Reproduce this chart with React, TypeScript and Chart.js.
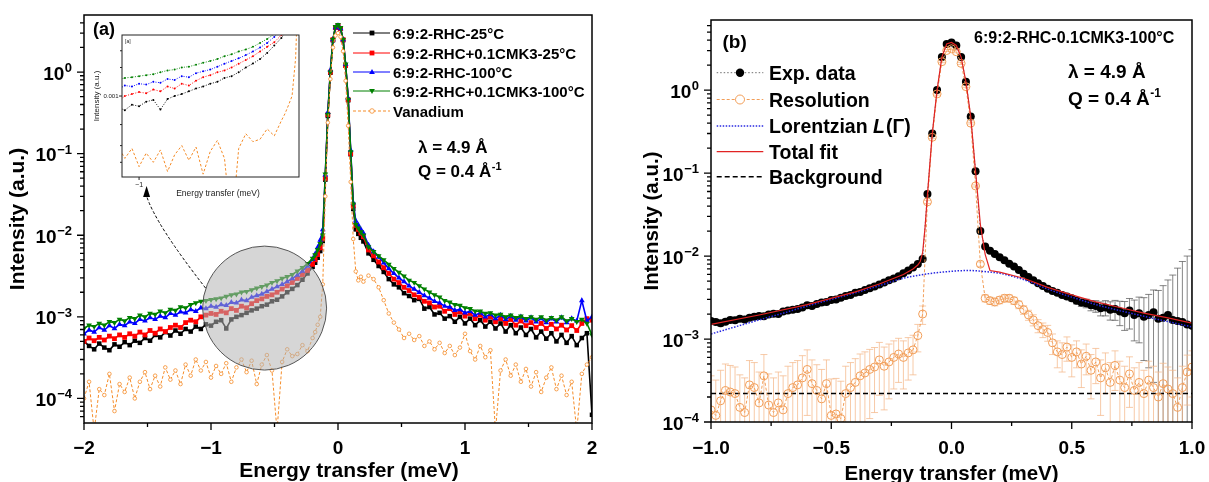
import React, { useEffect, useRef } from "react";
import { Chart, registerables } from "chart.js";

Chart.register(...registerables);

const FONT = '"Liberation Sans", Arial, Helvetica, sans-serif';
const ORANGE_A = "rgb(245,140,40)";
const ORANGE_B = "rgb(242,158,88)";
const ORANGE_BAR = "rgba(244,185,140,0.95)";
const GRAY_BAR = "rgba(85,85,85,0.9)";
const BLUE_B = "rgb(40,40,225)";
const RED_B = "rgb(225,35,35)";

// ---------------- Panel (a) data ----------------
const energyA = [
  -2.0, -1.96, -1.92, -1.88, -1.84, -1.8, -1.76, -1.72, -1.68, -1.64,
  -1.6, -1.56, -1.52, -1.48, -1.44, -1.4, -1.36, -1.32, -1.28, -1.24,
  -1.2, -1.16, -1.12, -1.08, -1.04, -1.0, -0.96, -0.92, -0.88, -0.84,
  -0.8, -0.76, -0.72, -0.68, -0.64, -0.6, -0.56, -0.52, -0.48, -0.44,
  -0.4, -0.36, -0.32, -0.28, -0.24,
  -0.2, -0.18, -0.16, -0.14, -0.12, -0.1, -0.08, -0.06, -0.04, -0.02,
  0.0, 0.02, 0.04, 0.06, 0.08, 0.1, 0.12, 0.14, 0.16, 0.18, 0.2,
  0.24, 0.28, 0.32, 0.36, 0.4, 0.44, 0.48, 0.52, 0.56, 0.6,
  0.64, 0.68, 0.72, 0.76, 0.8, 0.84, 0.88, 0.92, 0.96, 1.0,
  1.04, 1.08, 1.12, 1.16, 1.2, 1.24, 1.28, 1.32, 1.36, 1.4,
  1.44, 1.48, 1.52, 1.56, 1.6, 1.64, 1.68, 1.72, 1.76, 1.8,
  1.84, 1.88, 1.92, 1.96, 2.0,
];

const rhc25C = [
  5.0e-4, 4.4e-4, 4.0e-4, 4.7e-4, 4.2e-4, 3.9e-4, 4.6e-4, 4.3e-4, 4.9e-4, 4.5e-4,
  5.1e-4, 4.8e-4, 5.5e-4, 5.1e-4, 6.0e-4, 5.6e-4, 6.5e-4, 5.9e-4, 6.8e-4, 6.2e-4,
  7.1e-4, 6.6e-4, 7.6e-4, 7.1e-4, 8.1e-4, 7.8e-4, 8.7e-4, 9.1e-4, 7.2e-4, 9.3e-4,
  1.0e-3, 1.05e-3, 1.12e-3, 1.2e-3, 1.26e-3, 1.35e-3, 1.41e-3, 1.55e-3, 1.62e-3, 1.78e-3,
  2.0e-3, 2.2e-3, 2.45e-3, 2.85e-3, 3.4e-3,
  4.1e-3, 4.6e-3, 5.3e-3, 6.4e-3, 8.5e-3, 0.048, 0.29, 0.98, 2.45, 3.5,
  3.7, 3.4, 2.45, 1.2, 0.45, 0.098, 0.021, 0.0118, 0.0104, 0.0093, 0.0084,
  6.0e-3, 5.0e-3, 4.2e-3, 3.55e-3, 2.9e-3, 2.5e-3, 2.3e-3, 1.95e-3, 1.8e-3, 1.6e-3,
  1.66e-3, 1.26e-3, 1.32e-3, 1.07e-3, 1.12e-3, 9.5e-4, 1.02e-3, 8.7e-4, 1.0e-3, 8.3e-4,
  9.5e-4, 7.9e-4, 9.1e-4, 7.6e-4, 8.7e-4, 7.2e-4, 8.3e-4, 6.6e-4, 7.9e-4, 6.3e-4,
  7.4e-4, 6.0e-4, 7.1e-4, 5.6e-4, 6.6e-4, 5.4e-4, 6.3e-4, 5.0e-4, 6.0e-4, 4.8e-4,
  5.8e-4, 4.5e-4, 5.5e-4, 6.3e-4, 6.3e-5,
];

const cmk25C = [
  5.0e-4, 5.5e-4, 5.1e-4, 5.6e-4, 5.2e-4, 5.8e-4, 5.4e-4, 6.0e-4, 5.6e-4, 6.2e-4,
  5.8e-4, 6.5e-4, 6.0e-4, 6.8e-4, 6.3e-4, 7.1e-4, 6.6e-4, 7.4e-4, 7.9e-4, 7.4e-4,
  8.5e-4, 9.1e-4, 8.7e-4, 1.0e-3, 1.05e-3, 1.1e-3, 1.07e-3, 1.17e-3, 1.12e-3, 1.26e-3,
  1.2e-3, 1.35e-3, 1.29e-3, 1.45e-3, 1.58e-3, 1.66e-3, 1.78e-3, 1.86e-3, 2.0e-3, 2.19e-3,
  2.4e-3, 2.63e-3, 2.95e-3, 3.3e-3, 3.7e-3,
  4.4e-3, 5.0e-3, 5.8e-3, 7.0e-3, 9.2e-3, 0.05, 0.3, 1.0, 2.5, 3.5,
  3.7, 3.4, 2.5, 1.2, 0.46, 0.1, 0.023, 0.0132, 0.0118, 0.0106, 0.0096,
  6.6e-3, 5.6e-3, 4.7e-3, 4.0e-3, 3.4e-3, 2.9e-3, 2.63e-3, 2.3e-3, 2.1e-3, 1.86e-3,
  1.74e-3, 1.55e-3, 1.48e-3, 1.32e-3, 1.35e-3, 1.17e-3, 1.26e-3, 1.07e-3, 1.15e-3, 1.02e-3,
  1.1e-3, 9.5e-4, 1.05e-3, 9.1e-4, 1.0e-3, 8.7e-4, 9.5e-4, 8.3e-4, 9.3e-4, 7.9e-4,
  8.9e-4, 7.8e-4, 8.5e-4, 7.4e-4, 8.3e-4, 7.2e-4, 8.1e-4, 7.1e-4, 7.9e-4, 6.9e-4,
  7.8e-4, 6.8e-4, 8.3e-4, 9.5e-4, 9.1e-4,
];

const rhc100C = [
  6.2e-4, 6.9e-4, 6.5e-4, 7.4e-4, 6.9e-4, 7.8e-4, 7.2e-4, 8.1e-4, 7.8e-4, 8.7e-4,
  8.3e-4, 9.3e-4, 8.9e-4, 9.8e-4, 9.3e-4, 1.02e-3, 9.8e-4, 1.1e-3, 1.05e-3, 1.15e-3,
  1.12e-3, 1.23e-3, 1.17e-3, 1.29e-3, 1.26e-3, 1.35e-3, 1.32e-3, 1.41e-3, 1.38e-3, 1.51e-3,
  1.48e-3, 1.62e-3, 1.58e-3, 1.74e-3, 1.82e-3, 1.9e-3, 2.04e-3, 2.19e-3, 2.34e-3, 2.5e-3,
  2.7e-3, 2.95e-3, 3.24e-3, 3.63e-3, 4.2e-3,
  5.1e-3, 5.9e-3, 7.1e-3, 8.7e-3, 0.0117, 0.055, 0.32, 1.05, 2.5, 3.5,
  3.7, 3.4, 2.5, 1.25, 0.48, 0.11, 0.025, 0.015, 0.0133, 0.0118, 0.0106,
  7.6e-3, 6.3e-3, 5.4e-3, 4.6e-3, 3.9e-3, 3.4e-3, 3.0e-3, 2.7e-3, 2.4e-3, 2.19e-3,
  2.0e-3, 1.82e-3, 1.7e-3, 1.55e-3, 1.48e-3, 1.35e-3, 1.32e-3, 1.2e-3, 1.23e-3, 1.12e-3,
  1.17e-3, 1.05e-3, 1.12e-3, 1.0e-3, 1.07e-3, 9.5e-4, 1.05e-3, 9.3e-4, 1.02e-3, 9.1e-4,
  1.0e-3, 8.9e-4, 9.8e-4, 8.7e-4, 9.5e-4, 8.5e-4, 9.5e-4, 8.7e-4, 9.8e-4, 8.5e-4,
  9.5e-4, 8.9e-4, 1.58e-3, 8.9e-4, 1.0e-3,
];

const cmk100C = [
  7.2e-4, 7.9e-4, 7.6e-4, 8.3e-4, 7.9e-4, 8.7e-4, 8.5e-4, 9.3e-4, 8.9e-4, 9.8e-4,
  9.5e-4, 1.05e-3, 1.0e-3, 1.1e-3, 1.07e-3, 1.17e-3, 1.12e-3, 1.23e-3, 1.2e-3, 1.32e-3,
  1.29e-3, 1.41e-3, 1.48e-3, 1.55e-3, 1.58e-3, 1.62e-3, 1.66e-3, 1.7e-3, 1.78e-3, 1.86e-3,
  1.9e-3, 2.0e-3, 2.04e-3, 2.14e-3, 2.24e-3, 2.34e-3, 2.45e-3, 2.63e-3, 2.75e-3, 2.95e-3,
  3.1e-3, 3.3e-3, 3.63e-3, 4.0e-3, 4.5e-3,
  5.2e-3, 5.75e-3, 6.6e-3, 7.9e-3, 0.01, 0.056, 0.3, 1.0, 2.5, 3.6,
  3.8, 3.5, 2.5, 1.25, 0.46, 0.105, 0.024, 0.0135, 0.0122, 0.011, 0.01,
  7.2e-3, 6.3e-3, 5.6e-3, 5.0e-3, 4.4e-3, 3.9e-3, 3.5e-3, 3.16e-3, 2.8e-3, 2.63e-3,
  2.4e-3, 2.19e-3, 2.0e-3, 1.86e-3, 1.74e-3, 1.58e-3, 1.51e-3, 1.41e-3, 1.38e-3, 1.29e-3,
  1.26e-3, 1.17e-3, 1.17e-3, 1.1e-3, 1.12e-3, 1.05e-3, 1.07e-3, 1.0e-3, 1.05e-3, 9.8e-4,
  1.02e-3, 9.5e-4, 1.0e-3, 9.3e-4, 1.0e-3, 9.1e-4, 9.8e-4, 9.1e-4, 1.0e-3, 8.9e-4,
  9.5e-4, 8.7e-4, 9.3e-4, 8.3e-4, 6.0e-4,
];

const vanadium = [
  1.0e-4, 1.6e-4, 4e-5, 1.3e-4, 1.1e-4, 2.0e-4, 7e-5, 1.5e-4, 1.2e-4, 1.8e-4,
  1.0e-4, 1.6e-4, 2.1e-4, 1.3e-4, 1.9e-4, 1.4e-4, 2.4e-4, 1.7e-4, 2.2e-4, 1.5e-4,
  2.6e-4, 1.9e-4, 3.0e-4, 2.2e-4, 2.8e-4, 1.8e-4, 2.5e-4, 2.0e-4, 2.7e-4, 1.6e-4,
  2.4e-4, 3.0e-4, 2.1e-4, 2.9e-4, 1.5e-4, 2.6e-4, 3.4e-4, 2.2e-4, 4e-5, 2.8e-4,
  4.0e-4, 3.3e-4, 3.5e-4, 4.5e-4, 3.8e-4,
  5.5e-4, 6.5e-4, 8.0e-4, 1.0e-3, 2.5e-3, 0.03, 0.24, 0.82, 2.0, 2.8,
  3.0, 2.7, 1.8, 0.78, 0.22, 0.045, 9.0e-3, 3.6e-3, 2.8e-3, 3.1e-3, 2.7e-3,
  3.2e-3, 2.9e-3, 2.3e-3, 1.6e-3, 1.1e-3, 8.5e-4, 7.0e-4, 5.5e-4, 6.2e-4, 5.2e-4,
  5.8e-4, 4.4e-4, 5.0e-4, 4.0e-4, 4.8e-4, 3.6e-4, 4.4e-4, 3.4e-4, 4.2e-4, 6.2e-4,
  3.8e-4, 3.0e-4, 4.4e-4, 3.2e-4, 3.9e-4, 4e-5, 2.2e-4, 3.0e-4, 1.9e-4, 2.6e-4,
  1.6e-4, 2.3e-4, 1.4e-4, 2.1e-4, 1.2e-4, 1.8e-4, 2.4e-4, 1.3e-4, 1.9e-4, 1.1e-4,
  1.6e-4, 4e-5, 2.0e-4, 2.6e-4, 3.2e-4,
];

const seriesLabelsA = [
  "6:9:2-RHC-25°C",
  "6:9:2-RHC+0.1CMK3-25°C",
  "6:9:2-RHC-100°C",
  "6:9:2-RHC+0.1CMK3-100°C",
  "Vanadium",
];

const xTicksA = [-2, -1, 0, 1, 2];
const xTickLabelsA = ["−2", "−1", "0", "1", "2"];
const xMinorA = [-1.5, -0.5, 0.5, 1.5];
const yDecades = [1e-4, 1e-3, 1e-2, 1e-1, 1];
const yDecadeExp = ["−4", "−3", "−2", "−1", "0"];

// ---------------- Panel (b) data ----------------
const energyB = [
  -1.0, -0.98, -0.96, -0.94, -0.92, -0.9, -0.88, -0.86, -0.84, -0.82,
  -0.8, -0.78, -0.76, -0.74, -0.72, -0.7, -0.68, -0.66, -0.64, -0.62,
  -0.6, -0.58, -0.56, -0.54, -0.52, -0.5, -0.48, -0.46, -0.44, -0.42,
  -0.4, -0.38, -0.36, -0.34, -0.32, -0.3, -0.28, -0.26, -0.24, -0.22,
  -0.2, -0.18, -0.16, -0.14,
  -0.12, -0.1, -0.08, -0.06, -0.04, -0.02, 0.0, 0.02, 0.04, 0.06, 0.08, 0.1, 0.12,
  0.14, 0.16, 0.18, 0.2, 0.22, 0.24, 0.26, 0.28, 0.3, 0.32,
  0.34, 0.36, 0.38, 0.4, 0.42, 0.44, 0.46, 0.48, 0.5, 0.52,
  0.54, 0.56, 0.58, 0.6, 0.62, 0.64, 0.66, 0.68, 0.7, 0.72,
  0.74, 0.76, 0.78, 0.8, 0.82, 0.84, 0.86, 0.88, 0.9, 0.92,
  0.94, 0.96, 0.98, 1.0,
];

const expData = [
  1.65e-3, 1.6e-3, 1.55e-3, 1.62e-3, 1.7e-3, 1.68e-3, 1.75e-3, 1.72e-3, 1.8e-3, 1.85e-3,
  1.9e-3, 1.88e-3, 1.98e-3, 2.02e-3, 2.0e-3, 2.15e-3, 2.2e-3, 2.25e-3, 2.3e-3, 2.4e-3,
  2.55e-3, 2.5e-3, 2.65e-3, 2.75e-3, 2.8e-3, 2.95e-3, 3.0e-3, 3.15e-3, 3.3e-3, 3.4e-3,
  3.6e-3, 3.7e-3, 3.9e-3, 4.1e-3, 4.3e-3, 4.55e-3, 4.8e-3, 5.1e-3, 5.35e-3, 5.7e-3,
  6.2e-3, 6.7e-3, 7.3e-3, 8.0e-3,
  9.2e-3, 0.056, 0.3, 1.0, 2.5, 3.6, 3.75, 3.45, 2.5, 1.26, 0.48, 0.105, 0.02,
  0.013, 0.0116, 0.0106, 9.7e-3, 8.9e-3, 8.1e-3, 7.5e-3, 6.8e-3, 6.1e-3, 5.6e-3,
  5.1e-3, 4.7e-3, 4.35e-3, 4.05e-3, 3.8e-3, 3.6e-3, 3.4e-3, 3.25e-3, 3.1e-3, 2.9e-3,
  2.75e-3, 2.7e-3, 2.55e-3, 2.5e-3, 2.35e-3, 2.4e-3, 2.25e-3, 2.3e-3, 2.15e-3, 2.05e-3,
  2.2e-3, 1.95e-3, 2.05e-3, 1.85e-3, 1.95e-3, 2.1e-3, 1.75e-3, 1.8e-3, 1.95e-3, 1.7e-3,
  1.65e-3, 1.6e-3, 1.5e-3, 1.45e-3,
];

const expErr = [
  1.2e-4, 1.1e-4, 1.1e-4, 1.0e-4, 1.0e-4, 1.0e-4, 9e-5, 9e-5, 9e-5, 9e-5,
  9e-5, 9e-5, 8e-5, 8e-5, 8e-5, 8e-5, 8e-5, 8e-5, 8e-5, 8e-5,
  8e-5, 8e-5, 8e-5, 8e-5, 8e-5, 8e-5, 8e-5, 8e-5, 8e-5, 8e-5,
  8e-5, 8e-5, 8e-5, 9e-5, 9e-5, 9e-5, 1e-4, 1e-4, 1e-4, 1e-4,
  1.1e-4, 1.1e-4, 1.2e-4, 1.3e-4,
  1.5e-4, 1e-3, 4e-3, 0.01, 0.02, 0.03, 0.03, 0.03, 0.02, 0.01, 4e-3, 1e-3, 2e-4,
  2e-4, 2e-4, 1.8e-4, 1.7e-4, 1.6e-4, 1.5e-4, 1.5e-4, 1.4e-4, 1.4e-4, 1.4e-4,
  1.4e-4, 1.4e-4, 1.5e-4, 1.5e-4, 1.6e-4, 1.7e-4, 1.8e-4, 2.0e-4, 2.2e-4, 2.5e-4,
  2.8e-4, 3.2e-4, 3.6e-4, 4.0e-4, 4.5e-4, 5.0e-4, 5.6e-4, 6.2e-4, 7.0e-4, 7.8e-4,
  8.8e-4, 1.0e-3, 1.15e-3, 1.3e-3, 1.5e-3, 1.8e-3, 2.1e-3, 2.6e-3, 3.2e-3, 4.2e-3,
  5.5e-3, 7.0e-3, 8.5e-3, 1.05e-2,
];

const resolution = [
  1.4e-4, 1.2e-4, 1.8e-4, 2.4e-4, 2.3e-4, 2.2e-4, 1.5e-4, 1.3e-4, 2.8e-4, 2.6e-4,
  1.7e-4, 3.6e-4, 1.6e-4, 1.3e-4, 1.7e-4, 1.4e-4, 2.2e-4, 2.6e-4, 2.8e-4, 3.4e-4,
  4.3e-4, 2.9e-4, 2.4e-4, 1.9e-4, 2.9e-4, 1.2e-4, 1.25e-4, 1.1e-4, 2.2e-4, 2.6e-4,
  3.0e-4, 3.6e-4, 3.9e-4, 4.3e-4, 4.6e-4, 5.6e-4, 4.7e-4, 5.3e-4, 6.0e-4, 6.6e-4,
  6.0e-4, 6.8e-4, 7.4e-4, 1.1e-3,
  2.0e-3, 0.045, 0.27, 0.9, 2.2, 3.0, 3.15, 2.9, 2.1, 1.1, 0.4, 0.07, 8.0e-3,
  3.1e-3, 2.9e-3, 2.8e-3, 2.95e-3, 3.1e-3, 3.1e-3, 2.9e-3, 2.6e-3, 2.25e-3, 1.95e-3,
  1.7e-3, 1.45e-3, 1.3e-3, 1.2e-3, 9.0e-4, 7.0e-4, 6.5e-4, 8.0e-4, 6.0e-4, 7.0e-4,
  5.0e-4, 6.2e-4, 4.2e-4, 5.3e-4, 3.4e-4, 4.5e-4, 3.0e-4, 4.8e-4, 3.2e-4, 2.6e-4,
  3.8e-4, 2.4e-4, 3.0e-4, 2.2e-4, 3.2e-4, 2.6e-4, 2.0e-4, 2.9e-4, 2.5e-4, 2.2e-4,
  1.5e-4, 2.6e-4, 4.0e-4, 4.6e-4,
];

const resolutionErr = [
  2.2e-4, 2.0e-4, 2.4e-4, 2.6e-4, 2.5e-4, 2.4e-4, 2.2e-4, 2.1e-4, 2.7e-4, 2.6e-4,
  2.3e-4, 2.9e-4, 2.2e-4, 2.1e-4, 2.3e-4, 2.2e-4, 2.5e-4, 2.6e-4, 2.7e-4, 2.9e-4,
  3.1e-4, 2.7e-4, 2.5e-4, 2.4e-4, 2.7e-4, 2.1e-4, 2.1e-4, 2.0e-4, 2.5e-4, 2.6e-4,
  2.8e-4, 3.0e-4, 3.1e-4, 3.2e-4, 3.3e-4, 3.5e-4, 3.3e-4, 3.4e-4, 3.5e-4, 3.6e-4,
  3.5e-4, 3.6e-4, 3.7e-4, 4.0e-4,
  5e-4, 2e-3, 0.01, 0.03, 0.06, 0.08, 0.08, 0.08, 0.06, 0.03, 0.01, 2e-3, 5e-4,
  3.0e-4, 2.9e-4, 2.9e-4, 2.9e-4, 3.0e-4, 3.0e-4, 2.9e-4, 2.8e-4, 2.7e-4, 2.7e-4,
  2.6e-4, 2.6e-4, 2.6e-4, 2.6e-4, 2.5e-4, 2.5e-4, 2.5e-4, 2.6e-4, 2.5e-4, 2.5e-4,
  2.4e-4, 2.5e-4, 2.3e-4, 2.4e-4, 2.2e-4, 2.3e-4, 2.2e-4, 2.4e-4, 2.2e-4, 2.1e-4,
  2.3e-4, 2.1e-4, 2.2e-4, 2.0e-4, 2.2e-4, 2.1e-4, 2.0e-4, 2.2e-4, 2.1e-4, 2.0e-4,
  1.9e-4, 2.1e-4, 2.4e-4, 2.6e-4,
];

const lorentzX = [-1.0, -0.9, -0.8, -0.7, -0.6, -0.5, -0.4, -0.3, -0.2, -0.1, 0.0, 0.07, 0.15, 0.2, 0.3, 0.4, 0.5, 0.6, 0.7, 0.8, 0.9, 1.0];
const lorentzY = [1.15e-3, 1.4e-3, 1.7e-3, 2.05e-3, 2.5e-3, 3.0e-3, 3.6e-3, 4.4e-3, 5.4e-3, 6.1e-3, 6.55e-3, 6.7e-3, 6.45e-3, 6.2e-3, 5.2e-3, 4.0e-3, 3.2e-3, 2.6e-3, 2.2e-3, 1.88e-3, 1.62e-3, 1.4e-3];

const fitX = [-1.0, -0.8, -0.6, -0.4, -0.3, -0.2, -0.16, -0.14, -0.13, -0.12, -0.11, -0.1, -0.08, -0.06, -0.04, -0.02, 0.0, 0.02, 0.04, 0.06, 0.08, 0.1, 0.12, 0.14, 0.16, 0.2, 0.3, 0.4, 0.5, 0.6, 0.7, 0.8, 0.9, 1.0];
const fitY = [1.5e-3, 1.95e-3, 2.6e-3, 3.7e-3, 4.6e-3, 6.0e-3, 7.0e-3, 7.8e-3, 8.6e-3, 0.011, 0.022, 0.055, 0.3, 1.0, 2.5, 3.6, 3.75, 3.45, 2.5, 1.26, 0.48, 0.105, 0.024, 0.0105, 6.7e-3, 6.4e-3, 5.4e-3, 4.2e-3, 3.4e-3, 2.8e-3, 2.4e-3, 2.05e-3, 1.8e-3, 1.55e-3];

const backgroundX = [-1.0, 1.0];
const backgroundY = [2.2e-4, 2.2e-4];

const legendLabelsB = ["Exp. data", "Resolution", "Lorentzian ", "Total fit", "Background"];
const xTicksB = [-1, -0.5, 0, 0.5, 1];
const xTickLabelsB = ["−1.0", "−0.5", "0.0", "0.5", "1.0"];
const xMinorB = [-0.75, -0.25, 0.25, 0.75];

// ---------------- helpers ----------------
function pts(xs: number[], ys: number[]) {
  return xs.map((x, i) => ({ x, y: ys[i] }));
}

function logMinor(min: number, max: number) {
  const out: number[] = [];
  const e0 = Math.floor(Math.log10(min));
  const e1 = Math.ceil(Math.log10(max));
  for (let e = e0; e <= e1; e++) {
    for (let k = 2; k <= 9; k++) {
      const v = k * Math.pow(10, e);
      if (v > min * 1.0001 && v < max * 0.9999) out.push(v);
    }
  }
  return out;
}

function fixedLinear(min: number, max: number, h: number) {
  return {
    type: "linear",
    min,
    max,
    grid: { display: false, drawTicks: false },
    border: { display: false },
    ticks: { display: false },
    afterFit: (s: any) => {
      s.height = h;
    },
  };
}

function fixedLog(min: number, max: number, w: number) {
  return {
    type: "logarithmic",
    min,
    max,
    grid: { display: false, drawTicks: false },
    border: { display: false },
    ticks: { display: false },
    afterFit: (s: any) => {
      s.width = w;
    },
  };
}

function drawMarker(ctx: any, style: string, x: number, y: number, r: number, fill: string, stroke: string, rot = 0, lw = 1) {
  ctx.save();
  ctx.translate(x, y);
  ctx.rotate((rot * Math.PI) / 180);
  ctx.beginPath();
  if (style === "rect") {
    ctx.rect(-r, -r, 2 * r, 2 * r);
  } else if (style === "triangle") {
    ctx.moveTo(0, -r * 1.2);
    ctx.lineTo(r * 1.1, r * 0.75);
    ctx.lineTo(-r * 1.1, r * 0.75);
    ctx.closePath();
  } else {
    ctx.arc(0, 0, r, 0, Math.PI * 2);
  }
  ctx.fillStyle = fill;
  ctx.fill();
  if (lw > 0) {
    ctx.lineWidth = lw;
    ctx.strokeStyle = stroke;
    ctx.stroke();
  }
  ctx.restore();
}

function drawSup(ctx: any, text: string, sup: string, x: number, y: number, size: number, supSize: number, rise: number) {
  ctx.textAlign = "left";
  ctx.textBaseline = "alphabetic";
  ctx.font = `bold ${size}px ${FONT}`;
  ctx.fillText(text, x, y);
  const w = ctx.measureText(text).width;
  ctx.font = `bold ${supSize}px ${FONT}`;
  ctx.fillText(sup, x + w + 0.5, y - rise);
}

function drawAxes(chart: any, c: any) {
  const ctx = chart.ctx;
  const a = chart.chartArea;
  const xs = chart.scales.x;
  const ys = chart.scales.y;
  ctx.save();
  ctx.strokeStyle = "#000";
  ctx.lineWidth = c.frameWidth;
  ctx.strokeRect(a.left, a.top, a.right - a.left, a.bottom - a.top);
  ctx.lineWidth = 1.3;
  ctx.beginPath();
  c.xMajor.forEach((v: number) => {
    const p = xs.getPixelForValue(v);
    ctx.moveTo(p, a.bottom);
    ctx.lineTo(p, a.bottom + c.majorLen);
  });
  c.xMinor.forEach((v: number) => {
    const p = xs.getPixelForValue(v);
    ctx.moveTo(p, a.bottom);
    ctx.lineTo(p, a.bottom + c.minorLen);
  });
  c.yMajor.forEach((v: number) => {
    const p = ys.getPixelForValue(v);
    ctx.moveTo(a.left, p);
    ctx.lineTo(a.left - c.majorLen, p);
  });
  logMinor(ys.min, ys.max).forEach((v: number) => {
    const p = ys.getPixelForValue(v);
    ctx.moveTo(a.left, p);
    ctx.lineTo(a.left - c.minorLen, p);
  });
  ctx.stroke();

  ctx.fillStyle = "#000";
  ctx.textBaseline = "alphabetic";
  ctx.textAlign = "center";
  ctx.font = `bold ${c.tickFont}px ${FONT}`;
  c.xMajor.forEach((v: number, i: number) => {
    ctx.fillText(c.xLabels[i], xs.getPixelForValue(v), c.xLabelBaseline);
  });
  c.yMajor.forEach((v: number, i: number) => {
    const p = ys.getPixelForValue(v);
    ctx.font = `bold ${c.supFont}px ${FONT}`;
    const sw = ctx.measureText(c.yExp[i]).width;
    ctx.textAlign = "left";
    ctx.fillText(c.yExp[i], c.labelRight - sw, p + c.supDy);
    ctx.font = `bold ${c.tickFont}px ${FONT}`;
    ctx.textAlign = "right";
    ctx.fillText("10", c.labelRight - sw - 0.5, p + c.baseDy);
  });
  ctx.font = `bold ${c.titleFont}px ${FONT}`;
  ctx.textAlign = "center";
  ctx.fillText(c.xTitle, c.xTitleX, c.xTitleBaseline);
  ctx.save();
  ctx.translate(c.yTitleX, (a.top + a.bottom) / 2);
  ctx.rotate(-Math.PI / 2);
  ctx.textBaseline = "middle";
  ctx.fillText(c.yTitle, 0, 0);
  ctx.restore();
  ctx.restore();
}

const baseOptions = (padding: any, xs: any, ys: any) => ({
  animation: false,
  responsive: false,
  devicePixelRatio: 1,
  events: [],
  layout: { padding, autoPadding: false },
  plugins: { legend: { display: false }, tooltip: { enabled: false } },
  scales: { x: xs, y: ys },
  elements: { line: { tension: 0 } },
});

// ---------------- Panel (a) ----------------
const styleA = [
  { color: "#000000", point: "rect", radius: 3.2, rot: 0 },
  { color: "#ff0000", point: "rect", radius: 3.4, rot: 0 },
  { color: "#0000ff", point: "triangle", radius: 3.3, rot: 0 },
  { color: "#008000", point: "triangle", radius: 3.3, rot: 180 },
];

function makePanelA(canvas: HTMLCanvasElement) {
  const series = [rhc25C, cmk25C, rhc100C, cmk100C];
  const datasets: any[] = series.map((ys, i) => ({
    label: seriesLabelsA[i],
    data: pts(energyA, ys),
    borderColor: styleA[i].color,
    backgroundColor: styleA[i].color,
    borderWidth: 1.6,
    pointStyle: styleA[i].point,
    pointRadius: styleA[i].radius,
    pointRotation: styleA[i].rot,
    pointBorderWidth: 0,
    order: 4 - i,
  }));
  datasets.push({
    label: seriesLabelsA[4],
    data: pts(energyA, vanadium),
    borderColor: ORANGE_A,
    borderDash: [3, 2],
    borderWidth: 1,
    pointStyle: "circle",
    pointRadius: 1.8,
    pointBackgroundColor: "#ffffff",
    pointBorderColor: ORANGE_A,
    pointBorderWidth: 0.8,
    order: 0,
  });

  const decor = {
    id: "panelADecor",
    afterDatasetsDraw(chart: any) {
      const { ctx } = chart;
      const xs = chart.scales.x;
      const ys = chart.scales.y;
      const cx = xs.getPixelForValue(-0.578);
      const cy = ys.getPixelForValue(1.28e-3);
      ctx.save();
      ctx.beginPath();
      ctx.arc(cx, cy, 62, 0, Math.PI * 2);
      ctx.fillStyle = "rgba(180,180,180,0.55)";
      ctx.fill();
      ctx.lineWidth = 1;
      ctx.strokeStyle = "rgba(70,70,70,0.9)";
      ctx.stroke();
      // dashed arrow towards inset
      ctx.beginPath();
      ctx.setLineDash([3, 2]);
      ctx.moveTo(cx - 59, cy - 20);
      ctx.quadraticCurveTo(cx - 109, cy - 84, cx - 118, cy - 112);
      ctx.strokeStyle = "#000";
      ctx.lineWidth = 1;
      ctx.stroke();
      ctx.setLineDash([]);
      ctx.beginPath();
      ctx.moveTo(cx - 118, cy - 122);
      ctx.lineTo(cx - 121.5, cy - 111);
      ctx.lineTo(cx - 114.5, cy - 111);
      ctx.closePath();
      ctx.fillStyle = "#000";
      ctx.fill();
      ctx.restore();
    },
    afterDraw(chart: any) {
      drawAxes(chart, {
        frameWidth: 1.5,
        majorLen: 7,
        minorLen: 4,
        xMajor: xTicksA,
        xLabels: xTickLabelsA,
        xMinor: xMinorA,
        yMajor: yDecades,
        yExp: yDecadeExp,
        tickFont: 19,
        supFont: 13,
        supDy: 0,
        baseDy: 7.5,
        labelRight: 72,
        xLabelBaseline: 454,
        xTitle: "Energy transfer (meV)",
        xTitleX: 349,
        xTitleBaseline: 477,
        titleFont: 21,
        yTitle: "Intensity (a.u.)",
        yTitleX: 18,
      });
      const ctx = chart.ctx;
      ctx.save();
      // legend
      const rows = [33, 53, 72, 91, 111];
      for (let i = 0; i < 5; i++) {
        const y = rows[i];
        ctx.beginPath();
        if (i === 4) {
          ctx.setLineDash([3, 2]);
          ctx.strokeStyle = ORANGE_A;
        } else {
          ctx.setLineDash([]);
          ctx.strokeStyle = styleA[i].color;
        }
        ctx.lineWidth = 1;
        ctx.moveTo(353, y);
        ctx.lineTo(390, y);
        ctx.stroke();
        ctx.setLineDash([]);
        if (i === 4) drawMarker(ctx, "circle", 372, y, 2.3, "#fff", ORANGE_A, 0, 0.8);
        else drawMarker(ctx, styleA[i].point, 372, y, i < 2 ? 2.4 : 2.6, styleA[i].color, styleA[i].color, styleA[i].rot, 0);
        ctx.fillStyle = "#000";
        ctx.font = `bold 15px ${FONT}`;
        ctx.textAlign = "left";
        ctx.textBaseline = "alphabetic";
        ctx.fillText(seriesLabelsA[i], 393, y + 5.5);
      }
      ctx.fillStyle = "#000";
      ctx.font = `bold 18px ${FONT}`;
      ctx.textAlign = "left";
      ctx.fillText("(a)", 93, 35);
      ctx.font = `bold 17px ${FONT}`;
      ctx.fillText("λ = 4.9 Å", 418, 153);
      drawSup(ctx, "Q = 0.4 Å", "-1", 418, 177, 17, 11, 7);
      ctx.restore();
    },
  };

  return new Chart(canvas, {
    type: "line",
    data: { datasets },
    options: baseOptions({ left: 0, top: 15, right: 13, bottom: 0 }, fixedLinear(-2, 2, 59), fixedLog(5e-5, 5, 84)) as any,
    plugins: [decor],
  } as any);
}

// ---------------- Inset of panel (a) ----------------
function makeInset(canvas: HTMLCanvasElement) {
  const series = [rhc25C, cmk25C, rhc100C, cmk100C];
  const datasets: any[] = series.map((ys, i) => ({
    data: pts(energyA, ys),
    borderColor: styleA[i].color,
    backgroundColor: styleA[i].color,
    borderWidth: 0.9,
    borderDash: [1, 1.5],
    pointStyle: "circle",
    pointRadius: 1,
    pointBorderWidth: 0,
    order: 4 - i,
  }));
  datasets.push({
    data: pts(energyA, vanadium),
    borderColor: ORANGE_A,
    borderWidth: 1,
    borderDash: [2.5, 2],
    pointRadius: 0,
    order: 0,
  });
  const decor = {
    id: "insetDecor",
    beforeDatasetsDraw(chart: any) {
      const { ctx, chartArea: a } = chart;
      ctx.save();
      ctx.fillStyle = "#fff";
      ctx.fillRect(a.left, a.top, a.right - a.left, a.bottom - a.top);
      ctx.restore();
    },
    afterDraw(chart: any) {
      const { ctx, chartArea: a } = chart;
      const xs = chart.scales.x;
      const ys = chart.scales.y;
      ctx.save();
      ctx.strokeStyle = "#222";
      ctx.lineWidth = 1;
      ctx.strokeRect(a.left, a.top, a.right - a.left, a.bottom - a.top);
      ctx.beginPath();
      [2e-4, 3e-4, 5e-4, 2e-3, 3e-3].forEach((v) => {
        const p = ys.getPixelForValue(v);
        ctx.moveTo(a.left, p);
        ctx.lineTo(a.left - 2, p);
      });
      const p1 = ys.getPixelForValue(1e-3);
      ctx.moveTo(a.left, p1);
      ctx.lineTo(a.left - 3, p1);
      const px = xs.getPixelForValue(-1);
      ctx.moveTo(px, a.bottom);
      ctx.lineTo(px, a.bottom + 3);
      ctx.stroke();
      ctx.fillStyle = "#222";
      ctx.font = `6px ${FONT}`;
      ctx.textAlign = "right";
      ctx.textBaseline = "middle";
      ctx.fillText("0.001", a.left - 3.5, p1);
      ctx.textAlign = "left";
      ctx.font = `5px ${FONT}`;
      ctx.fillText("[a]", a.left + 3, a.top + 7);
      ctx.textAlign = "center";
      ctx.textBaseline = "alphabetic";
      ctx.font = `7px ${FONT}`;
      ctx.fillText("−1", px, a.bottom + 10);
      ctx.font = `8.5px ${FONT}`;
      ctx.fillText("Energy transfer (meV)", 130, 166);
      ctx.save();
      ctx.translate(9, 66);
      ctx.rotate(-Math.PI / 2);
      ctx.font = `8px ${FONT}`;
      ctx.textBaseline = "middle";
      ctx.fillText("Intensity (a.u.)", 0, 0);
      ctx.restore();
      ctx.restore();
    },
  };
  return new Chart(canvas, {
    type: "line",
    data: { datasets },
    options: baseOptions({ left: 0, top: 5, right: 4, bottom: 0 }, fixedLinear(-1.096, -0.101, 23), fixedLog(1.4e-4, 4.4e-3, 34)) as any,
    plugins: [decor],
  } as any);
}

// ---------------- Panel (b) ----------------
function makePanelB(canvas: HTMLCanvasElement) {
  const datasets: any[] = [
    {
      label: legendLabelsB[3],
      data: pts(fitX, fitY),
      borderColor: RED_B,
      borderWidth: 1.2,
      pointRadius: 0,
      order: 0,
    },
    {
      label: legendLabelsB[2],
      data: pts(lorentzX, lorentzY),
      borderColor: BLUE_B,
      borderWidth: 1.5,
      borderDash: [1.5, 1.5],
      pointRadius: 0,
      cubicInterpolationMode: "monotone",
      order: 1,
    },
    {
      label: legendLabelsB[1],
      data: pts(energyB, resolution),
      borderColor: ORANGE_B,
      borderWidth: 1,
      borderDash: [3, 2],
      pointStyle: "circle",
      pointRadius: 4,
      pointBackgroundColor: "rgba(255,255,255,0)",
      pointBorderColor: ORANGE_B,
      pointBorderWidth: 1,
      order: 2,
    },
    {
      label: legendLabelsB[4],
      data: pts(backgroundX, backgroundY),
      borderColor: "#000",
      borderWidth: 1.5,
      borderDash: [5, 3],
      pointRadius: 0,
      order: 3,
    },
    {
      label: legendLabelsB[0],
      data: pts(energyB, expData),
      borderColor: "rgba(120,120,120,1)",
      borderWidth: 1,
      borderDash: [1.5, 2],
      pointStyle: "circle",
      pointRadius: 4,
      pointBackgroundColor: "#000",
      pointBorderColor: "#000",
      pointBorderWidth: 0,
      order: 4,
    },
  ];

  const decor = {
    id: "panelBDecor",
    beforeDatasetsDraw(chart: any) {
      const { ctx, chartArea: a } = chart;
      const xs = chart.scales.x;
      const ys = chart.scales.y;
      ctx.save();
      ctx.beginPath();
      ctx.rect(a.left, a.top, a.right - a.left, a.bottom - a.top);
      ctx.clip();
      const bars = (vals: number[], errs: number[], color: string) => {
        ctx.strokeStyle = color;
        ctx.lineWidth = 0.8;
        ctx.beginPath();
        energyB.forEach((xv, i) => {
          const px = xs.getPixelForValue(xv);
          const hi = ys.getPixelForValue(vals[i] + errs[i]);
          const lov = vals[i] - errs[i];
          const lo = lov > 0 ? ys.getPixelForValue(lov) : a.bottom + 20;
          ctx.moveTo(px, hi);
          ctx.lineTo(px, lo);
          ctx.moveTo(px - 3.5, hi);
          ctx.lineTo(px + 3.5, hi);
          if (lov > 0) {
            ctx.moveTo(px - 3.5, lo);
            ctx.lineTo(px + 3.5, lo);
          }
        });
        ctx.stroke();
      };
      bars(expData, expErr, GRAY_BAR);
      bars(resolution, resolutionErr, ORANGE_BAR);
      ctx.restore();
    },
    afterDraw(chart: any) {
      drawAxes(chart, {
        frameWidth: 1.5,
        majorLen: 7,
        minorLen: 4,
        xMajor: xTicksB,
        xLabels: xTickLabelsB,
        xMinor: xMinorB,
        yMajor: yDecades,
        yExp: yDecadeExp,
        tickFont: 19,
        supFont: 13,
        supDy: 0,
        baseDy: 7.5,
        labelRight: 94,
        xLabelBaseline: 454,
        xTitle: "Energy transfer (meV)",
        xTitleX: 346.5,
        xTitleBaseline: 480,
        titleFont: 20.5,
        yTitle: "Intensity (a.u.)",
        yTitleX: 47,
      });
      const ctx = chart.ctx;
      ctx.save();
      const rows = [72.7, 99.5, 126, 151.7, 176.7];
      const x1 = 111.7;
      const x2 = 158.3;
      const xm = 135;
      const line = (y: number, color: string, dash: number[], w: number) => {
        ctx.beginPath();
        ctx.setLineDash(dash);
        ctx.strokeStyle = color;
        ctx.lineWidth = w;
        ctx.moveTo(x1, y);
        ctx.lineTo(x2, y);
        ctx.stroke();
        ctx.setLineDash([]);
      };
      line(rows[0], "rgba(110,110,110,1)", [1.5, 2], 1);
      drawMarker(ctx, "circle", xm, rows[0], 4.2, "#000", "#000", 0, 0);
      line(rows[1], ORANGE_B, [3, 2], 1);
      drawMarker(ctx, "circle", xm, rows[1], 4.5, "#fff", ORANGE_B, 0, 1);
      line(rows[2], BLUE_B, [1.5, 1.5], 1.5);
      line(rows[3], RED_B, [], 1.2);
      line(rows[4], "#000", [5, 3], 1.5);
      ctx.fillStyle = "#000";
      ctx.textAlign = "left";
      ctx.textBaseline = "alphabetic";
      ctx.font = `bold 19.5px ${FONT}`;
      const tx = 164;
      ctx.fillText(legendLabelsB[0], tx, rows[0] + 7);
      ctx.fillText(legendLabelsB[1], tx, rows[1] + 7);
      ctx.fillText(legendLabelsB[2], tx, rows[2] + 7);
      let w = ctx.measureText(legendLabelsB[2]).width;
      ctx.font = `italic bold 19.5px ${FONT}`;
      ctx.fillText("L", tx + w, rows[2] + 7);
      w += ctx.measureText("L").width;
      ctx.font = `bold 19.5px ${FONT}`;
      ctx.fillText("(Γ)", tx + w + 1, rows[2] + 7);
      ctx.fillText(legendLabelsB[3], tx, rows[3] + 7);
      ctx.fillText(legendLabelsB[4], tx, rows[4] + 7);

      ctx.font = `bold 19px ${FONT}`;
      ctx.fillText("(b)", 117.5, 47.5);
      ctx.font = `bold 16px ${FONT}`;
      ctx.fillText("6:9:2-RHC-0.1CMK3-100°C", 369, 43);
      ctx.font = `bold 19px ${FONT}`;
      ctx.fillText("λ = 4.9 Å", 463, 78);
      drawSup(ctx, "Q = 0.4 Å", "-1", 463, 105, 19, 12, 8);
      ctx.restore();
    },
  };

  return new Chart(canvas, {
    type: "line",
    data: { datasets },
    options: baseOptions({ left: 0, top: 20, right: 17, bottom: 0 }, fixedLinear(-1, 1, 60), fixedLog(1e-4, 7, 106)) as any,
    plugins: [decor],
  } as any);
}

export default function App() {
  const refA = useRef<HTMLCanvasElement>(null);
  const refB = useRef<HTMLCanvasElement>(null);
  const refC = useRef<HTMLCanvasElement>(null);
  useEffect(() => {
    const charts: any[] = [];
    if (refA.current) charts.push(makePanelA(refA.current));
    if (refC.current) charts.push(makeInset(refC.current));
    if (refB.current) charts.push(makePanelB(refB.current));
    return () => {
      charts.forEach((c) => c.destroy());
    };
  }, []);
  return (
    <div style={{ position: "absolute", left: 0, top: 0, width: 1209, height: 482, background: "#fff", overflow: "hidden" }}>
      <canvas ref={refA} width={605} height={482} style={{ position: "absolute", left: 0, top: 0, width: 605, height: 482 }} />
      <canvas ref={refC} width={215} height={170} style={{ position: "absolute", left: 88, top: 30, width: 215, height: 170 }} />
      <canvas ref={refB} width={604} height={482} style={{ position: "absolute", left: 605, top: 0, width: 604, height: 482 }} />
    </div>
  );
}
